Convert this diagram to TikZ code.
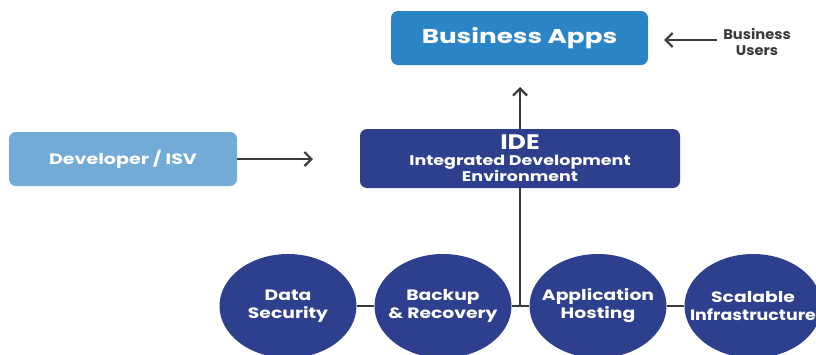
\documentclass[tikz,border=0pt]{standalone}
\usepackage{fontspec}
\usepackage{graphicx}
\setmainfont{Poppins}
\usetikzlibrary{arrows.meta,shapes.geometric}
\definecolor{appblue}{HTML}{2B84C6}
\definecolor{devblue}{HTML}{72ABD6}
\definecolor{navy}{HTML}{2E3F8E}
\definecolor{linegray}{HTML}{3A3A3A}
\newcommand\wx[2][1.25]{\scalebox{#1}[1]{#2}}
\newcommand\cl[2][1.25]{\makebox[0pt]{\scalebox{#1}[1]{#2}}}
\begin{document}
\begin{tikzpicture}[x=1pt,y=-1pt,
  box/.style={rounded corners=7pt, text=white, align=center, inner sep=0pt},
  circ/.style={ellipse, fill=navy, minimum width=137pt, minimum height=104pt, text=white, align=center, inner sep=0pt, font=\bfseries\fontsize{15}{18}\selectfont},
  conn/.style={draw=linegray, line width=2.2pt},
  arr/.style={conn, -{Straight Barb[length=7pt,width=14pt,line width=2.2pt]}}]
\useasboundingbox (0,0) rectangle (816,354);
\node[box, fill=appblue, minimum width=257pt, minimum height=54pt, font=\bfseries\fontsize{20}{24}\selectfont] (apps) at (519.5,38) {\wx[1.31]{Business Apps}};
\node[align=center, text=linegray, font=\bfseries\fontsize{14}{16}\selectfont] (users) at (757,42) {\wx[1.05]{Business}\\\wx[1.05]{Users}};
\node[box, fill=devblue, minimum width=228pt, minimum height=54pt, font=\bfseries\fontsize{15}{17}\selectfont] (dev) at (123,159) {\wx[1.27]{Developer / ISV}};
\node[box, fill=navy, minimum width=320pt, minimum height=59pt, font=\bfseries\fontsize{14}{16}\selectfont] (ide) at (520,158.5) {{\fontsize{21}{21}\selectfont\wx[1.2]{IDE}}\\\wx{Integrated Development}\\\wx{Environment}};
\node[circ] (c1) at (288,306) {\cl{Data}\\\cl{Security}};
\node[circ] (c2) at (443,306) {\cl{Backup}\\\cl{\& Recovery}};
\node[circ] (c3) at (598,306) {\cl{Application}\\\cl{Hosting}};
\node[circ] (c4) at (753,306) {\cl{Scalable}\\\cl[1.16]{Infrastructure}};
\coordinate (devtip) at (313,159);
\coordinate (idetip) at (520,87);
\coordinate (usertip) at (664,40);
\coordinate (userstart) at (717,40);
\coordinate (junc) at (520,307);
\draw[arr] (dev.east) -- (devtip);
\draw[arr] (ide.north) -- (idetip);
\draw[arr] (userstart) -- (usertip);
\draw[conn] (ide.south) -- (junc);
\draw[conn] (c1.east) -- (c2.west);
\draw[conn] (c2.east) -- (c3.west);
\draw[conn] (c3.east) -- (c4.west);
\end{tikzpicture}
\end{document}
